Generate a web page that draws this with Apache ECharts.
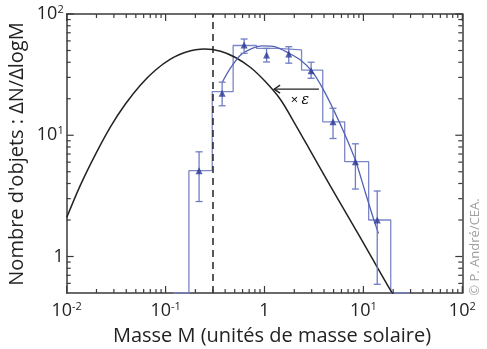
<!DOCTYPE html>
<html><head><meta charset="utf-8">
<script src="https://cdn.jsdelivr.net/npm/echarts@6/dist/echarts.min.js"></script>
<style>html,body{margin:0;padding:0;background:#fff}#c{width:487px;height:349px}</style>
</head><body><div id="c"></div>
<script>
// ---- data ----
const xMin = 0.01, xMax = 100, yMin = 0.5, yMax = 100;
const xMajorTicks = [0.01, 0.1, 1, 10, 100];
const xTickLabels = ['10|-2', '10|-1', '1', '10|1', '10|2'];
const yMajorTicks = [1, 10, 100];
const yTickLabels = ['1', '10|1', '10|2'];
const minorX = [0.02,0.03,0.04,0.05,0.06,0.07,0.08,0.09,0.2,0.3,0.4,0.5,0.6,0.7,0.8,0.9,2,3,4,5,6,7,8,9,20,30,40,50,60,70,80,90];
const minorY = [0.6,0.7,0.8,0.9,2,3,4,5,6,7,8,9,20,30,40,50,60,70,80,90];

// observed mass function (points with error bars)
const obsMass = [0.218, 0.373, 0.622, 1.05, 1.76, 2.96, 4.93, 8.30, 13.8];
const obsN    = [5.1, 22.2, 55.5, 45.9, 46.8, 34.1, 12.9, 6.05, 2.0];
const obsLow  = [2.84, 17.5, 47.4, 40.2, 39.3, 29.5, 9.4, 3.6, 0.59];
const obsHigh = [7.3, 27.4, 62.2, 52, 53.7, 40, 16.7, 8.5, 3.47];

// histogram (bin edges and heights; 0.5 = at/below bottom of the axis)
const binEdges = [0.119, 0.172, 0.296, 0.482, 0.83, 1.36, 2.37, 3.88, 6.47, 11.3, 18.9, 29.4];
const binHeights = [0.5, 5.1, 22.9, 55, 52, 50.5, 34.5, 12.9, 6.05, 2.0, 0.5];

// lognormal fit through observed points
const fitMass = [0.375, 0.454, 0.573, 0.723, 0.955, 1.29, 1.77, 2.31, 3.0, 3.86, 5.0, 6.58, 8.4, 10.5, 12.3, 14.2];
const fitN    = [27.5, 35.9, 45.9, 51.4, 54.5, 53.5, 47.4, 41.8, 33.9, 24.5, 16.2, 9.9, 6.05, 3.34, 2.2, 1.55];

// stellar IMF (black curve)
const imfMass = [0.01, 0.0138, 0.0196, 0.0278, 0.0394, 0.0558, 0.0792, 0.112, 0.159, 0.248, 0.36, 0.509, 0.723, 1.02, 1.45, 2.06, 2.92, 4.64, 7.40, 11.8, 18.7, 20];
const imfN    = [2.1, 3.9, 7.0, 11.8, 18.2, 26.0, 34.5, 42.4, 48.4, 51.4, 49.3, 43.8, 36.2, 27.7, 19.7, 12.2, 7.4, 3.8, 1.98, 1.02, 0.53, 0.49];

const cutMass = 0.3;
// annotation arrow "× ε"
const arrowFrom = [3.55, 24];
const arrowTo = [1.25, 24];
const arrowLabelAt = [2.28, 19.3];

const xTitle = 'Masse M (unités de masse solaire)';
const yTitle = "Nombre d'objets : ΔN/ΔlogM";
const credit = '© P. André/CEA.';

// ---- build ----
const FONT = '"Open Sans"';
const axisColor = '#3a3a3a';
function fmtLabel(list, ticks) {
  return function (v) {
    for (let i = 0; i < ticks.length; i++) {
      if (Math.abs(v - ticks[i]) / ticks[i] < 1e-6) {
        const s = list[i].split('|');
        return s.length > 1 ? '{b|' + s[0] + '}{s|' + s[1] + '}' : '{b|' + s[0] + '}';
      }
    }
    return '';
  };
}
const rich = {
  b: {fontSize: 18, fontFamily: FONT, color: '#222', lineHeight: 20},
  s: {fontSize: 11, fontFamily: FONT, color: '#222', verticalAlign: 'top', lineHeight: 12, padding: [0, 0, 6, 0]}
};

function mkX(pos, showLabel) {
  return {
    type: 'log', logBase: 10, min: xMin, max: xMax, position: pos, gridIndex: 0,
    axisLine: {show: true, onZero: false, lineStyle: {color: axisColor, width: 1.5}},
    axisTick: {show: false},
    axisLabel: showLabel ? {show: true, margin: 8, formatter: fmtLabel(xTickLabels, xMajorTicks), rich: rich, showMinLabel: true, showMaxLabel: true} : {show: false},
    splitLine: {show: false}, minorTick: {show: false}
  };
}
function mkY(pos, showLabel) {
  return {
    type: 'log', logBase: 10, min: yMin, max: yMax, position: pos, gridIndex: 0,
    axisLine: {show: true, onZero: false, lineStyle: {color: axisColor, width: 1.5}},
    axisTick: {show: false},
    axisLabel: showLabel ? {show: true, margin: 3, formatter: fmtLabel(yTickLabels, yMajorTicks), rich: rich, showMinLabel: false} : {show: false},
    splitLine: {show: false}, minorTick: {show: false}
  };
}

const histData = [];
for (let i = 0; i < binHeights.length; i++) {
  histData.push([binEdges[i], binHeights[i]]);
  histData.push([binEdges[i + 1], binHeights[i]]);
}
const errData = obsMass.map((m, i) => [m, obsLow[i], obsHigh[i]]);

const blueHist = '#7b86c6';
const blueErr = '#6f7cc2';
const blueMark = '#2c3a96';
const blueFit = '#5462b4';

// tick series: two-column data, tick length fixed per series
function xTickSeries(values, len) {
  return {
    type: 'custom', data: values.map(v => [v, 1]), encode: {x: 0, y: 1}, z: 8,
    renderItem: function (params, api) {
      const v = api.value(0);
      const b = api.coord([v, yMin]), t = api.coord([v, yMax]);
      const st = {stroke: axisColor, lineWidth: 1.2};
      return {type: 'group', children: [
        {type: 'line', shape: {x1: b[0], y1: b[1], x2: b[0], y2: b[1] - len}, style: st},
        {type: 'line', shape: {x1: t[0], y1: t[1], x2: t[0], y2: t[1] + len}, style: st}
      ]};
    }
  };
}
function yTickSeries(values, len) {
  return {
    type: 'custom', data: values.map(v => [1, v]), encode: {x: 0, y: 1}, z: 8,
    renderItem: function (params, api) {
      const v = api.value(1);
      const l = api.coord([xMin, v]), r = api.coord([xMax, v]);
      const st = {stroke: axisColor, lineWidth: 1.2};
      return {type: 'group', children: [
        {type: 'line', shape: {x1: l[0], y1: l[1], x2: l[0] + len, y2: l[1]}, style: st},
        {type: 'line', shape: {x1: r[0], y1: r[1], x2: r[0] - len, y2: r[1]}, style: st}
      ]};
    }
  };
}

const chart = echarts.init(document.getElementById('c'), null, {renderer: 'canvas'});
chart.setOption({
  animation: false,
  backgroundColor: '#fff',
  grid: {left: 66.7, right: 24.7, top: 14, bottom: 56, containLabel: false},
  xAxis: [mkX('bottom', true), mkX('top', false)],
  yAxis: [mkY('left', true), mkY('right', false)],
  series: [
    {
      type: 'line', data: histData, symbol: 'none', clip: true,
      lineStyle: {color: blueHist, width: 1.3}, z: 2
    },
    {
      type: 'line', data: imfMass.map((m, i) => [m, imfN[i]]), symbol: 'none', smooth: 0.3, clip: true,
      lineStyle: {color: '#222', width: 1.5}, z: 3,
      markLine: {
        silent: true, symbol: ['none', 'none'], label: {show: false},
        lineStyle: {color: '#222', width: 1.5, type: [7, 5]},
        data: [{xAxis: cutMass}]
      }
    },
    {
      type: 'line', data: fitMass.map((m, i) => [m, fitN[i]]), symbol: 'none', smooth: 0.3, clip: true,
      lineStyle: {color: blueFit, width: 1.3}, z: 4
    },
    {
      type: 'custom', data: errData, encode: {x: 0, y: [1, 2]}, z: 5,
      renderItem: function (params, api) {
        const x = api.value(0);
        const lo = api.coord([x, api.value(1)]);
        const hi = api.coord([x, api.value(2)]);
        const w = 3.5, st = {stroke: blueErr, lineWidth: 1.3};
        return {type: 'group', children: [
          {type: 'line', shape: {x1: lo[0], y1: lo[1], x2: hi[0], y2: hi[1]}, style: st},
          {type: 'line', shape: {x1: lo[0] - w, y1: lo[1], x2: lo[0] + w, y2: lo[1]}, style: st},
          {type: 'line', shape: {x1: hi[0] - w, y1: hi[1], x2: hi[0] + w, y2: hi[1]}, style: st}
        ]};
      }
    },
    {
      type: 'scatter', data: obsMass.map((m, i) => [m, obsN[i]]), symbol: 'triangle', symbolSize: [7, 7],
      itemStyle: {color: blueMark}, z: 6
    },
    {
      type: 'custom', data: [[arrowFrom[0], arrowFrom[1], arrowTo[0], arrowTo[1], arrowLabelAt[0], arrowLabelAt[1]]],
      encode: {x: [0, 2], y: [1, 3]}, z: 7,
      renderItem: function (params, api) {
        const a = api.coord([api.value(0), api.value(1)]);
        const b = api.coord([api.value(2), api.value(3)]);
        const t = api.coord([api.value(4), api.value(5)]);
        const st = {stroke: '#222', lineWidth: 1.3, fill: null};
        return {type: 'group', children: [
          {type: 'line', shape: {x1: a[0], y1: a[1], x2: b[0], y2: b[1]}, style: st},
          {type: 'polyline', shape: {points: [[b[0] + 6, b[1] - 4], [b[0], b[1]], [b[0] + 6, b[1] + 4]]}, style: st},
          {type: 'text', x: t[0], y: t[1], style: {
            text: '{m|× }{e|ε}', align: 'center', verticalAlign: 'middle',
            rich: {m: {fontSize: 13, fontFamily: FONT, color: '#222'}, e: {fontSize: 14, fontFamily: '"DejaVu Serif"', fontStyle: 'italic', color: '#222'}}
          }}
        ]};
      }
    },
    xTickSeries(xMajorTicks, 7),
    xTickSeries(minorX, 4),
    yTickSeries(yMajorTicks, 7),
    yTickSeries(minorY, 4)
  ],
  graphic: [
    {type: 'text', x: 272, y: 336, style: {text: xTitle, fontSize: 20, fontFamily: FONT, fill: '#222', align: 'center', verticalAlign: 'middle'}},
    {type: 'text', x: 17, y: 154, rotation: Math.PI / 2, style: {text: yTitle, fontSize: 20, fontFamily: FONT, fill: '#222', align: 'center', verticalAlign: 'middle'}},
    {type: 'text', x: 475, y: 247, rotation: Math.PI / 2, style: {text: credit, fontSize: 13, fontFamily: FONT, fill: '#a0a0a0', align: 'center', verticalAlign: 'middle'}}
  ]
});
</script></body></html>
